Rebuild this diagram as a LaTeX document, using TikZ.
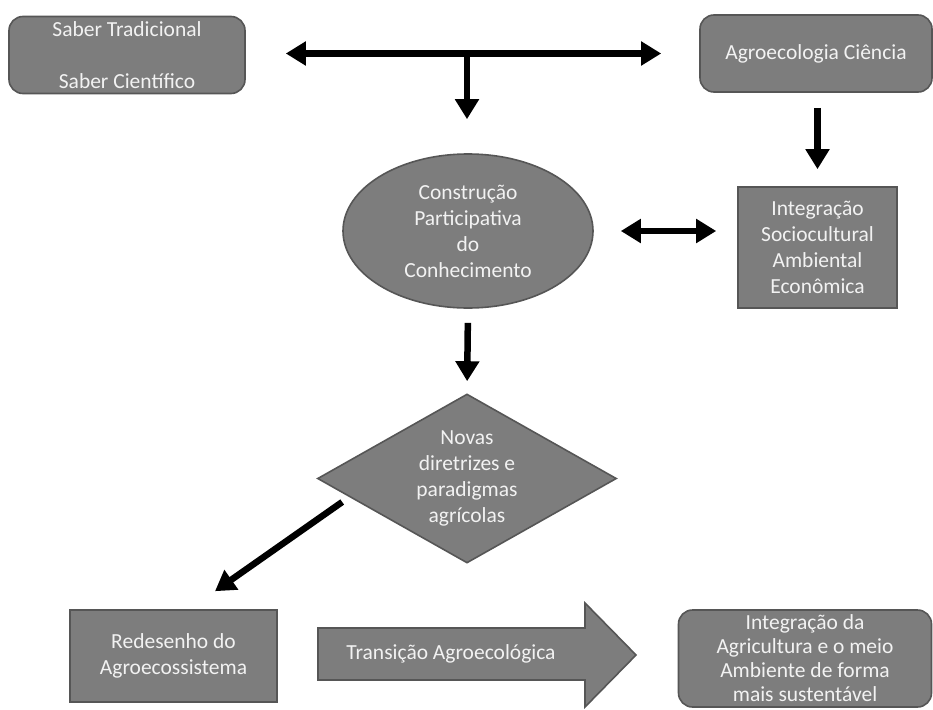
\documentclass[tikz,border=0pt]{standalone}
\usepackage{fontspec}
\setmainfont{Carlito}
\usetikzlibrary{arrows.meta,shapes.geometric,calc}
\definecolor{boxfill}{HTML}{7D7D7D}
\definecolor{boxline}{HTML}{565656}
\definecolor{boxtext}{HTML}{F2F2F2}
\tikzset{
  card/.style={draw=boxline,line width=1.6pt,fill=boxfill,text=boxtext,
    align=center,inner sep=0pt,font=\fontsize{21.5}{26}\selectfont},
  roundcard/.style={card,rounded corners=14pt},
  fat/.style={line width=6.5pt,-{Triangle[length=20pt,width=23pt]}},
  fatboth/.style={line width=6.5pt,{Triangle[length=20pt,width=23pt]}-{Triangle[length=20pt,width=23pt]}}
}
\begin{document}
\begin{tikzpicture}[x=1pt,y=-1pt]
  \useasboundingbox (0,0) rectangle (933,709);
  \fill[white] (0,0) rectangle (933,709);
  % top row
  \node[roundcard,minimum width=236pt,minimum height=77pt] (saber) at (127,55)
    {Saber Tradicional\\[26pt]Saber Científico};
  \node[roundcard,minimum width=232pt,minimum height=77pt] (agro) at (816,53.5)
    {Agroecologia Ciência};
  % middle
  \node[card,ellipse,minimum width=250pt,minimum height=154pt] (cpc) at (468,231)
    {Construção\\Participativa\\do\\Conhecimento};
  \node[card,minimum width=159pt,minimum height=121pt] (integ) at (817.5,247.5)
    {Integração\\Sociocultural\\Ambiental\\Econômica};
  \node[card,diamond,shape aspect=1.77,minimum width=299pt,minimum height=169pt] (novas) at (467,478.5)
    {Novas\\diretrizes e\\paradigmas\\agrícolas};
  % bottom row
  \node[card,minimum width=207pt,minimum height=92pt] (redes) at (173.5,656)
    {Redesenho do\\Agroecossistema};
  \filldraw[draw=boxline,line width=1.6pt,fill=boxfill]
    (318,628) -- (585,628) -- (585,603) -- (636,655) -- (585,707) -- (585,680) -- (318,680) -- cycle;
  \node[text=boxtext,font=\fontsize{21.5}{26}\selectfont] (trans) at (451,654) {Transição Agroecológica};
  \node[roundcard,font=\fontsize{21.5}{24}\selectfont,minimum width=253pt,minimum height=97pt] (final) at (805,658.5)
    {Integração da\\Agricultura e o meio\\Ambiente de forma\\mais sustentável};
  % arrows
  \coordinate (mid) at (467,53.5);
  \draw[fatboth,shorten <=40pt,shorten >=38pt] (saber.east |- mid) -- (agro.west);
  \draw[fat,shorten >=34pt] (mid) -- (mid |- cpc.north);
  \draw[fat,shorten <=15pt,shorten >=17pt] (integ.north |- agro.south) -- (integ.north);
  \draw[fatboth,shorten <=27pt,shorten >=21pt] (cpc.east) -- (cpc.east -| integ.west);
  \draw[fat,shorten <=14pt,shorten >=12pt] (cpc.south) -- (novas.north);
  \draw[fat] ([shift={(25.5,23.5)}]novas.west) -- ([shift={(41.5,-18)}]redes.north);
\end{tikzpicture}
\end{document}
